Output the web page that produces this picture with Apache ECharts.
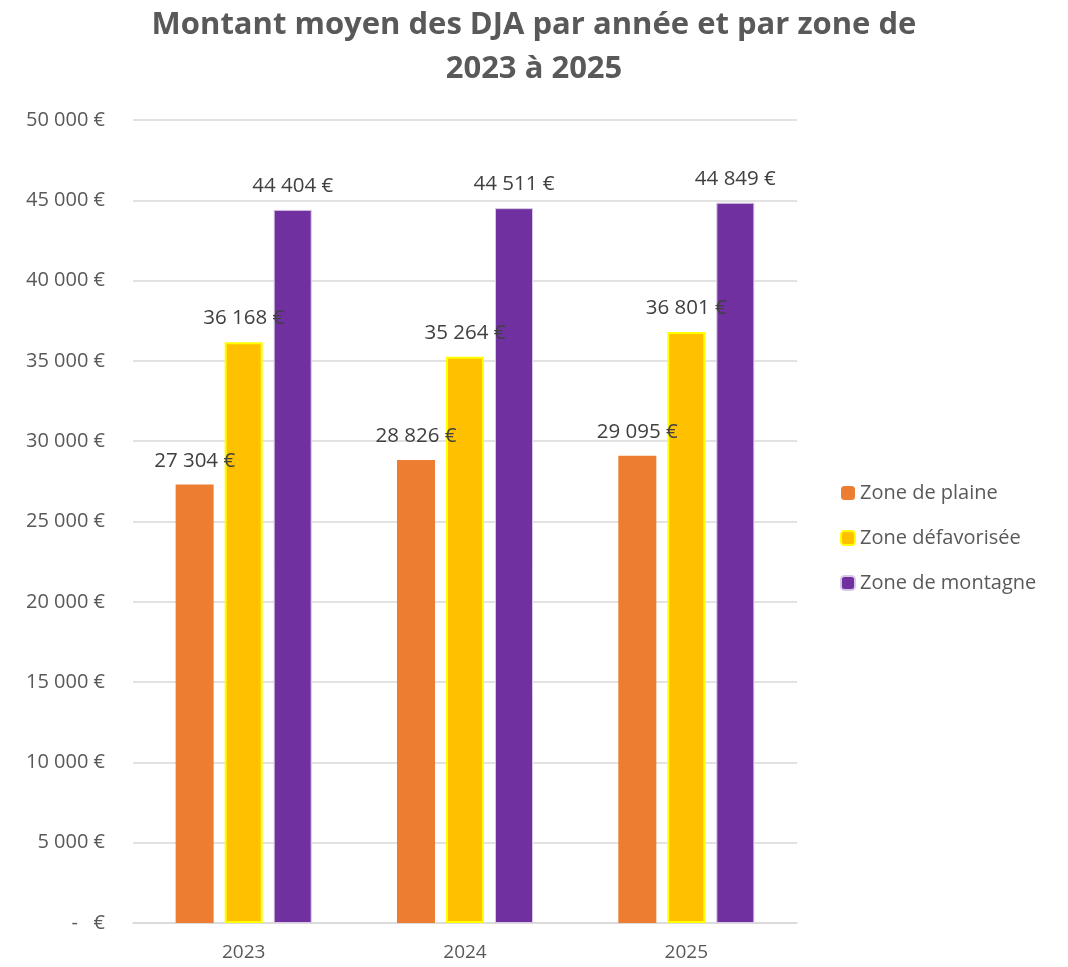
<!DOCTYPE html>
<html>
<head>
<meta charset="utf-8">
<script src="https://cdn.jsdelivr.net/npm/echarts@6/dist/echarts.min.js"></script>
<style>
html,body{margin:0;padding:0;background:#fff;}
#c{width:1068px;height:967px;}
</style>
</head>
<body>
<div id="c"></div>
<script>
const categories = ['2023', '2024', '2025'];
const seriesNames = ['Zone de plaine', 'Zone défavorisée', 'Zone de montagne'];
const plaine = [27304, 28826, 29095];
const defavorisee = [36168, 35264, 36801];
const montagne = [44404, 44511, 44849];
const yMin = 0, yMax = 50000, yStep = 5000;

const FONT = '"Open Sans", "Noto Sans", sans-serif';

function fmt(v) {
  if (v === 0) return '-   €';
  return String(Math.round(v)).replace(/\B(?=(\d{3})+(?!\d))/g, ' ') + ' €';
}

const chart = echarts.init(document.getElementById('c'));
const labelCfg = {
  show: true, position: 'top', distance: 13,
  color: '#404040', fontSize: 20.5, fontFamily: FONT,
  formatter: p => fmt(p.value)
};
chart.setOption({
  animation: false,
  backgroundColor: '#fff',
  title: {
    text: 'Montant moyen des DJA par année et par zone de\n2023 à 2025',
    left: 'center', top: -2,
    textStyle: { fontFamily: FONT, fontWeight: 'bold', fontSize: 31, color: '#595959', lineHeight: 44 }
  },
  legend: {
    orient: 'vertical', left: 835, top: 478,
    itemWidth: 14, itemHeight: 14, itemGap: 25,
    textStyle: { fontFamily: FONT, fontSize: 20, color: '#595959' },
    data: seriesNames
  },
  grid: { left: 133, right: 271, top: 120, bottom: 44, containLabel: false },
  xAxis: {
    type: 'category', data: categories,
    axisLine: { lineStyle: { color: '#d9d9d9', width: 1.5 } },
    axisTick: { show: false },
    axisLabel: { fontFamily: FONT, fontSize: 19, color: '#595959', margin: 20 }
  },
  yAxis: {
    type: 'value', min: yMin, max: yMax, interval: yStep,
    axisLine: { show: false }, axisTick: { show: false },
    splitLine: { lineStyle: { color: '#d9d9d9', width: 1.5 } },
    axisLabel: { fontFamily: FONT, fontSize: 20, color: '#595959', margin: 28, formatter: fmt }
  },
  series: [
    { name: seriesNames[0], type: 'bar', data: plaine, barWidth: 38, barGap: '29%',
      itemStyle: { color: '#ED7D31' }, label: labelCfg },
    { name: seriesNames[1], type: 'bar', data: defavorisee, barWidth: 38, barGap: '29%',
      itemStyle: { color: '#FFC000', borderColor: '#FFFF00', borderWidth: 2 }, label: labelCfg },
    { name: seriesNames[2], type: 'bar', data: montagne, barWidth: 38, barGap: '29%',
      itemStyle: { color: '#7030A0', borderColor: '#d8c8e6', borderWidth: 1 }, label: labelCfg }
  ]
});
</script>
</body>
</html>
